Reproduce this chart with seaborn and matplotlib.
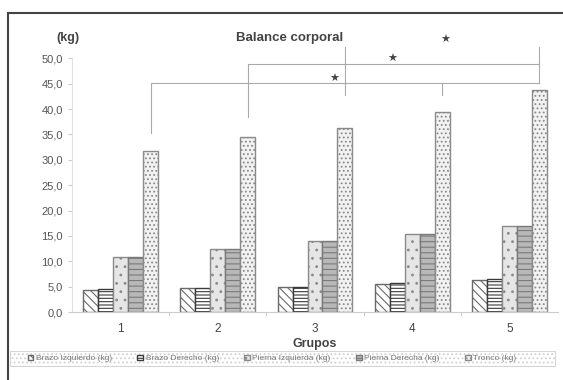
import pandas as pd
import numpy as np
import matplotlib
matplotlib.use("Agg")
import matplotlib.pyplot as plt
import matplotlib.patches as mpatches
from matplotlib.ticker import FuncFormatter
import seaborn as sns

grupos = ["1", "2", "3", "4", "5"]
segmentos = ["Brazo Izquierdo (kg)", "Brazo Derecho (kg)", "Pierna Izquierda (kg)",
             "Pierna Derecha (kg)", "Tronco (kg)"]
brazo_izq = [4.4, 4.8, 5.0, 5.6, 6.3]
brazo_der = [4.6, 4.8, 5.0, 5.8, 6.5]
pierna_izq = [10.9, 12.5, 14.0, 15.3, 16.9]
pierna_der = [10.9, 12.5, 14.0, 15.3, 16.9]
tronco = [31.7, 34.5, 36.2, 39.5, 43.8]

# brackets de significancia (grupo inicio, grupo fin, altura, altura del pie izq)
brackets = [(0, 4, 45.2, 35.3), (1, 4, 48.9, 38.5)]
estrellas = [(2.2, 46.0), (2.79, 49.8), (3.34, 53.6)]

df = pd.DataFrame({
    "Grupo": np.repeat(grupos, len(segmentos)),
    "Segmento": segmentos * len(grupos),
    "kg": np.array([brazo_izq, brazo_der, pierna_izq, pierna_der, tronco]).T.ravel(),
})

plt.rcParams['font.family'] = ['Liberation Sans', 'DejaVu Sans']
plt.rcParams['hatch.linewidth'] = 0.8

fig = plt.figure(figsize=(5.63, 3.80), dpi=100)
ax = fig.add_axes([72 / 563, 1 - 312 / 380, 486 / 563, 282 / 380])

sns.barplot(data=df, x="Grupo", y="kg", hue="Segmento", hue_order=segmentos,
            width=0.77, gap=0, ax=ax, legend=False, errorbar=None)

estilos = [
    dict(fc="white", ec="#6a6a6a", hatch="\\\\\\\\"),
    dict(fc="white", ec="#3a3a3a", hatch="-----"),
    dict(fc="#e6e6e6", ec="#8a8a8a", hatch=".."),
    dict(fc="#b8b8b8", ec="#7a7a7a", hatch="---"),
    dict(fc="#f2f2f2", ec="#8a8a8a", hatch="...."),
]
for cont, est in zip(ax.containers, estilos):
    for bar in cont:
        bar.set_facecolor(est["fc"])
        bar.set_edgecolor(est["ec"])
        bar.set_hatch(est["hatch"])
        bar.set_linewidth(1.0)

ax.set_xlim(-0.5, 4.5)
ax.set_ylim(0, 55.6)
ax.set_yticks(np.arange(0, 50.1, 5))
ax.yaxis.set_major_formatter(FuncFormatter(lambda v, p: f"{v:.1f}".replace(".", ",")))
ax.tick_params(axis="y", colors="#cccccc", labelcolor="#555555", labelsize=8, length=3)
ax.tick_params(axis="x", length=0, labelcolor="#444444", labelsize=8.5, pad=8)
for s in ["top", "right"]:
    ax.spines[s].set_visible(False)
ax.spines["left"].set_color("#e0e0e0")
ax.spines["left"].set_bounds(0, 50)
ax.spines["bottom"].set_color("#cccccc")
for xb in np.arange(0.5, 4.5, 1):
    ax.plot([xb, xb], [0, -0.5], color="#cccccc", lw=0.8, clip_on=False)
ax.set_xlabel("Grupos", fontsize=9, fontweight="bold", color="#444444", labelpad=2)
ax.set_ylabel("")

# posicion x de la barra Tronco en cada grupo
xt = [b.get_x() + b.get_width() / 2 for b in ax.containers[4]]
lc = "#aaaaaa"
for g0, g1, h, pie in brackets:
    ax.plot([xt[g0], xt[g0], xt[g1]], [pie, h, h], color=lc, lw=0.8)
ax.plot([xt[4], xt[4]], [45.2, 52.3], color=lc, lw=0.8)
ax.plot([xt[3], xt[3]], [42.8, 45.2], color=lc, lw=0.8)
ax.plot([xt[2], xt[2]], [42.8, 52.3], color=lc, lw=0.8)
for xs, ys in estrellas:
    ax.text(xs, ys, "★", ha="center", va="center", fontsize=8, color="#444444",
            family="DejaVu Sans")

fig.text(290 / 563, 1 - 38 / 380, "Balance corporal", ha="center", va="center",
         fontsize=9.5, fontweight="bold", color="#444444")
fig.text(68 / 563, 1 - 38 / 380, "(kg)", ha="center", va="center",
         fontsize=9, fontweight="bold", color="#444444")

# marco exterior
fig.patches.append(mpatches.Rectangle((8 / 563, -0.05), 1.1, 1 - 13 / 380 + 0.05,
                                      transform=fig.transFigure, fill=False,
                                      ec="#444444", lw=1.5))
# fondo punteado de la leyenda
fig.patches.append(mpatches.Rectangle((10 / 563, 1 - 366 / 380), 545 / 563, 15 / 380,
                                      transform=fig.transFigure, fc="white",
                                      ec="#d0d0d0", hatch="....", lw=0.6))

handles = [mpatches.Patch(fc=e["fc"], ec=e["ec"], hatch=e["hatch"]) for e in estilos]
leg = fig.legend(handles, segmentos, ncol=5, mode="expand",
                 bbox_to_anchor=(26 / 563, 1 - 366 / 380, 492 / 563, 15 / 380),
                 loc="center", borderaxespad=0, fontsize=6, handlelength=0.7,
                 handleheight=0.7, handletextpad=0.3, borderpad=0.2,
                 frameon=False, labelcolor="#777777")

fig.savefig("out.png", dpi=100)
